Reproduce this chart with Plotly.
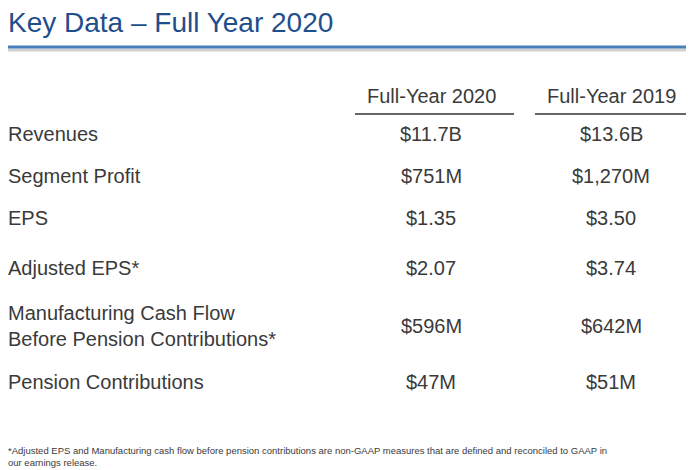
import plotly.graph_objects as go

W, H = 694, 470

title = "Key Data – Full Year 2020"
columns = ["Full-Year 2020", "Full-Year 2019"]
row_labels = ["Revenues", "Segment Profit", "EPS", "Adjusted EPS*",
              "Manufacturing Cash Flow<br>Before Pension Contributions*", "Pension Contributions"]
fy2020 = ["$11.7B", "$751M", "$1.35", "$2.07", "$596M", "$47M"]
fy2019 = ["$13.6B", "$1,270M", "$3.50", "$3.74", "$642M", "$51M"]
footnote = ("*Adjusted EPS and Manufacturing cash flow before pension contributions are non-GAAP measures that are defined and reconciled to GAAP in<br>"
            "our earnings release.")

# layout positions in pixels (page has an 8px body margin, so compensate)
OX, OY = 9, 8
row_y = [134, 176, 218, 268, 326, 382]
col_x = [432, 612]
text_col = "#3a3a3a"


def px(x):
    return (x - OX) / W


def py(y):
    return 1 - (y - OY) / H


fig = go.Figure()
ann = []
shapes = []

ann.append(dict(x=px(7), y=py(22), text=title, xanchor="left", yanchor="middle",
                font=dict(size=28, color="#1f4e8c")))
shapes.append(dict(type="line", xref="paper", yref="paper", x0=px(0), x1=1, y0=py(50), y1=py(50),
                   line=dict(color="#d0d0d0", width=3)))
shapes.append(dict(type="line", xref="paper", yref="paper", x0=px(0), x1=1, y0=py(47), y1=py(47),
                   line=dict(color="#4a7ebb", width=3)))

for cx, name in zip(col_x, columns):
    ann.append(dict(x=px(cx), y=py(96), text=name, xanchor="center", yanchor="middle",
                    font=dict(size=20, color=text_col)))
for x0, x1 in [(356, 515), (536, 690)]:
    shapes.append(dict(type="line", xref="paper", yref="paper", x0=px(x0), x1=px(x1),
                       y0=py(114), y1=py(114), line=dict(color="#333333", width=1.5)))

for y, lab, a, b in zip(row_y, row_labels, fy2020, fy2019):
    ann.append(dict(x=px(7), y=py(y), text=lab, xanchor="left", yanchor="middle", align="left",
                    font=dict(size=20, color=text_col)))
    ann.append(dict(x=px(col_x[0]), y=py(y), text=a, xanchor="center", yanchor="middle",
                    font=dict(size=20, color=text_col)))
    ann.append(dict(x=px(col_x[1]), y=py(y), text=b, xanchor="center", yanchor="middle",
                    font=dict(size=20, color=text_col)))

ann.append(dict(x=px(7), y=py(456), text=footnote, xanchor="left", yanchor="middle", align="left",
                font=dict(size=9.5, color=text_col)))

for a in ann:
    a.update(xref="paper", yref="paper", showarrow=False)

fig.update_layout(width=W, height=H, margin=dict(l=0, r=0, t=0, b=0),
                  paper_bgcolor="white", plot_bgcolor="white",
                  font=dict(family="Liberation Sans, Arial, sans-serif"),
                  xaxis=dict(visible=False), yaxis=dict(visible=False),
                  annotations=ann, shapes=shapes)
fig.write_html("out.html")
